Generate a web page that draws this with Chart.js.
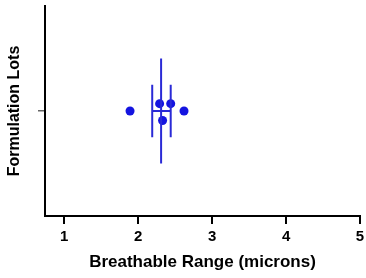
<!DOCTYPE html>
<html>
<head>
<meta charset="utf-8">
<script src="https://cdn.jsdelivr.net/npm/chart.js@4/dist/chart.umd.min.js"></script>
<style>
  html, body { margin: 0; padding: 0; background: #fff; }
  #wrap { width: 366px; height: 278px; }
</style>
</head>
<body>
<div id="wrap"><canvas id="c" width="366" height="278"></canvas></div>
<script>
// Individual lot results (breathable range, microns) and vertical jitter within the single category
const lotValues = [1.89, 2.29, 2.44, 2.62, 2.33];
const lotOffsets = [0, 0.07, 0.07, 0, -0.09];
// Summary marks: centre line and spread bars
const centerValue = 2.31;
const centerSpan = [-0.5, 0.5];
const spreadLow = 2.19;
const spreadHigh = 2.44;
const spreadSpan = [-0.25, 0.25];
const xTicks = [1, 2, 3, 4, 5];
const categoryLabels = [''];

const blue = '#1414e0';
const lineBlue = '#2a2ad6';

const lineDs = (pts) => ({
  type: 'scatter', data: pts, showLine: true, borderColor: lineBlue, borderWidth: 2,
  pointRadius: 0, pointHoverRadius: 0, fill: false
});

new Chart(document.getElementById('c'), {
  type: 'scatter',
  data: {
    datasets: [
      lineDs([{x: centerValue, y: centerSpan[0]}, {x: centerValue, y: centerSpan[1]}]),
      lineDs([{x: spreadLow, y: spreadSpan[0]}, {x: spreadLow, y: spreadSpan[1]}]),
      lineDs([{x: spreadHigh, y: spreadSpan[0]}, {x: spreadHigh, y: spreadSpan[1]}]),
      lineDs([{x: spreadLow, y: 0}, {x: spreadHigh, y: 0}]),
      {
        data: lotValues.map((v, i) => ({x: v, y: lotOffsets[i]})),
        backgroundColor: blue, borderColor: blue, pointRadius: 4.5, borderWidth: 0
      }
    ]
  },
  options: {
    responsive: false,
    animation: false,
    layout: { padding: { top: 6, right: 6, left: 0, bottom: 0 } },
    plugins: { legend: { display: false }, tooltip: { enabled: false } },
    scales: {
      x: {
        type: 'linear', min: 0.74, max: 5,
        afterBuildTicks: (s) => { s.ticks = xTicks.map(v => ({value: v})); },
        afterFit: (s) => { s.height = 62; s.paddingRight = 0; s.paddingLeft = 0; },
        grid: { display: true, drawOnChartArea: false, drawTicks: true, tickLength: 8, color: '#000', lineWidth: 2 },
        border: { display: true, color: '#000', width: 2 },
        ticks: { color: '#000', padding: 4, font: { family: 'Liberation Sans', size: 15, weight: 'bold' }, maxRotation: 0 },
        title: { display: true, text: 'Breathable Range (microns)', color: '#000',
                 font: { family: 'Liberation Sans', size: 17, weight: 'bold' }, padding: { top: 4, bottom: 5 } }
      },
      y: {
        type: 'linear', min: -1, max: 1,
        afterBuildTicks: (s) => { s.ticks = [{value: 0}]; },
        afterFit: (s) => { s.width = 45; s.paddingTop = 0; s.paddingBottom = 0; },
        grid: { display: true, drawOnChartArea: false, drawTicks: true, tickLength: 7, color: '#666', lineWidth: 1.5 },
        border: { display: true, color: '#000', width: 2 },
        ticks: { callback: (v, i) => categoryLabels[i] || '', font: { size: 1 } },
        title: { display: true, text: 'Formulation Lots', color: '#000',
                 font: { family: 'Liberation Sans', size: 16, weight: 'bold' }, padding: { top: 4.5, bottom: 0 } }
      }
    }
  }
});
</script>
</body>
</html>
